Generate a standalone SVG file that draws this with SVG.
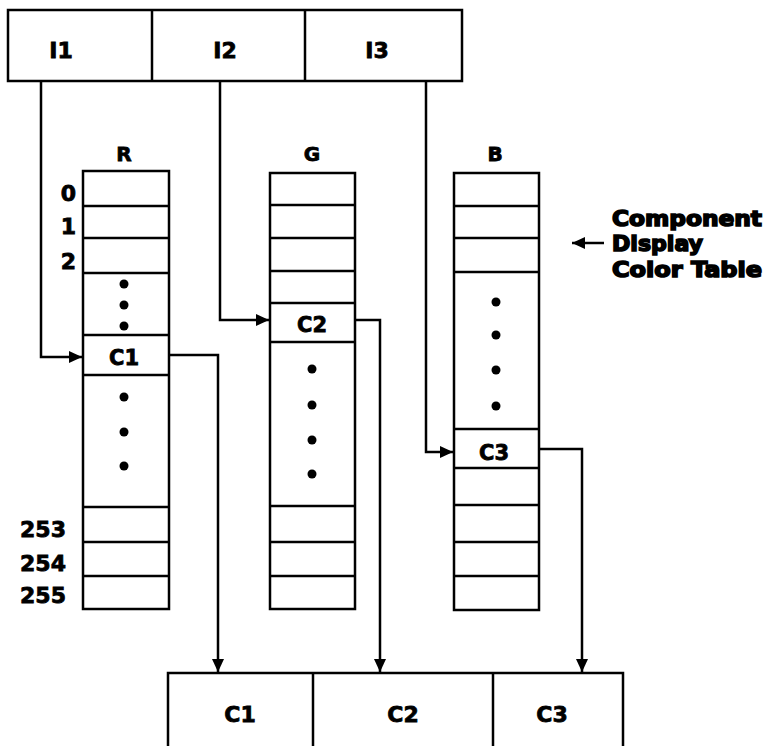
<svg xmlns="http://www.w3.org/2000/svg" width="768" height="746" viewBox="0 0 768 746">
<style>
.box{fill:#fff;stroke:#000;stroke-width:2.5}
.ln{fill:none;stroke:#000;stroke-width:2.5}
.t{font-family:"DejaVu Sans",sans-serif;font-weight:bold;fill:#000;stroke:#000;stroke-width:0.8;text-anchor:middle}
.big{font-size:22px}
.mid{font-size:21px}
.hdr{font-size:20px}
.lab{font-family:"DejaVu Sans",sans-serif;font-weight:900;font-size:21px;fill:#000;stroke:#000;stroke-width:1.6}
.num{font-family:"DejaVu Sans",sans-serif;font-weight:bold;font-size:22px;fill:#000;stroke:#000;stroke-width:0.8;text-anchor:end}
.dot{fill:#000}
</style>
<defs>
<marker id="ah" markerUnits="userSpaceOnUse" markerWidth="16" markerHeight="14" refX="13" refY="6" orient="auto">
<path d="M0,0 L13,6 L0,12 Z" fill="#000"/>
</marker>
</defs>
<g id="indices">
<rect class="box" x="8" y="10" width="454" height="71"/>
<line class="ln" x1="152" y1="10" x2="152" y2="81"/>
<line class="ln" x1="305" y1="10" x2="305" y2="81"/>
<text class="t big" x="61" y="58">I1</text>
<text class="t big" x="225" y="58">I2</text>
<text class="t big" x="377" y="58">I3</text>
</g>
<g id="table-R">
<text class="t hdr" x="124" y="161">R</text>
<rect class="box" x="83" y="171" width="86" height="438"/>
<path class="ln" d="M83,206H169M83,238H169M83,273H169M83,335H169M83,375H169M83,507H169M83,542H169M83,576H169"/>
<text class="num" x="76" y="201">0</text>
<text class="num" x="76" y="234">1</text>
<text class="num" x="76" y="269">2</text>
<text class="num" x="66" y="537">253</text>
<text class="num" x="66" y="571">254</text>
<text class="num" x="66" y="603">255</text>
<circle class="dot" cx="124" cy="284" r="4.5"/>
<circle class="dot" cx="124" cy="305" r="4.5"/>
<circle class="dot" cx="124" cy="326" r="4.5"/>
<circle class="dot" cx="124" cy="397" r="4.5"/>
<circle class="dot" cx="124" cy="432" r="4.5"/>
<circle class="dot" cx="124" cy="466" r="4.5"/>
<text class="t mid" x="124" y="365">C1</text>
</g>
<g id="table-G">
<text class="t hdr" x="312" y="161">G</text>
<rect class="box" x="270" y="173" width="85" height="436"/>
<path class="ln" d="M270,205H355M270,238H355M270,271H355M270,303H355M270,342H355M270,506H355M270,542H355M270,576H355"/>
<circle class="dot" cx="312" cy="369" r="4.5"/>
<circle class="dot" cx="312" cy="405" r="4.5"/>
<circle class="dot" cx="312" cy="440" r="4.5"/>
<circle class="dot" cx="312" cy="474" r="4.5"/>
<text class="t mid" x="312" y="332">C2</text>
</g>
<g id="table-B">
<text class="t hdr" x="495" y="161">B</text>
<rect class="box" x="454" y="173" width="85" height="437"/>
<path class="ln" d="M454,206H539M454,238H539M454,272H539M454,429H539M454,468H539M454,505H539M454,542H539M454,576H539"/>
<circle class="dot" cx="496" cy="302" r="4.5"/>
<circle class="dot" cx="496" cy="335" r="4.5"/>
<circle class="dot" cx="496" cy="370" r="4.5"/>
<circle class="dot" cx="496" cy="406" r="4.5"/>
<text class="t mid" x="494" y="460">C3</text>
</g>
<g id="label">
<text class="lab" x="612" y="226" textLength="150" lengthAdjust="spacingAndGlyphs">Component</text>
<text class="lab" x="612" y="251" textLength="91" lengthAdjust="spacingAndGlyphs">Display</text>
<text class="lab" x="612" y="277" textLength="150" lengthAdjust="spacingAndGlyphs">Color  Table</text>
</g>
<g id="output">
<rect class="box" x="168" y="673" width="455" height="90"/>
<line class="ln" x1="313" y1="673" x2="313" y2="746"/>
<line class="ln" x1="493" y1="673" x2="493" y2="746"/>
<text class="t big" x="240" y="722">C1</text>
<text class="t big" x="403" y="722">C2</text>
<text class="t big" x="552" y="722">C3</text>
</g>
<g id="connectors">
<path class="ln" d="M41,81V357H82" marker-end="url(#ah)"/>
<path class="ln" d="M220,81V320H269" marker-end="url(#ah)"/>
<path class="ln" d="M426,81V452H453" marker-end="url(#ah)"/>
<path class="ln" d="M169,355H218V672" marker-end="url(#ah)"/>
<path class="ln" d="M355,320H380V672" marker-end="url(#ah)"/>
<path class="ln" d="M539,449H582V672" marker-end="url(#ah)"/>
<path class="ln" d="M604,243H572" marker-end="url(#ah)"/>
</g>
</svg>
